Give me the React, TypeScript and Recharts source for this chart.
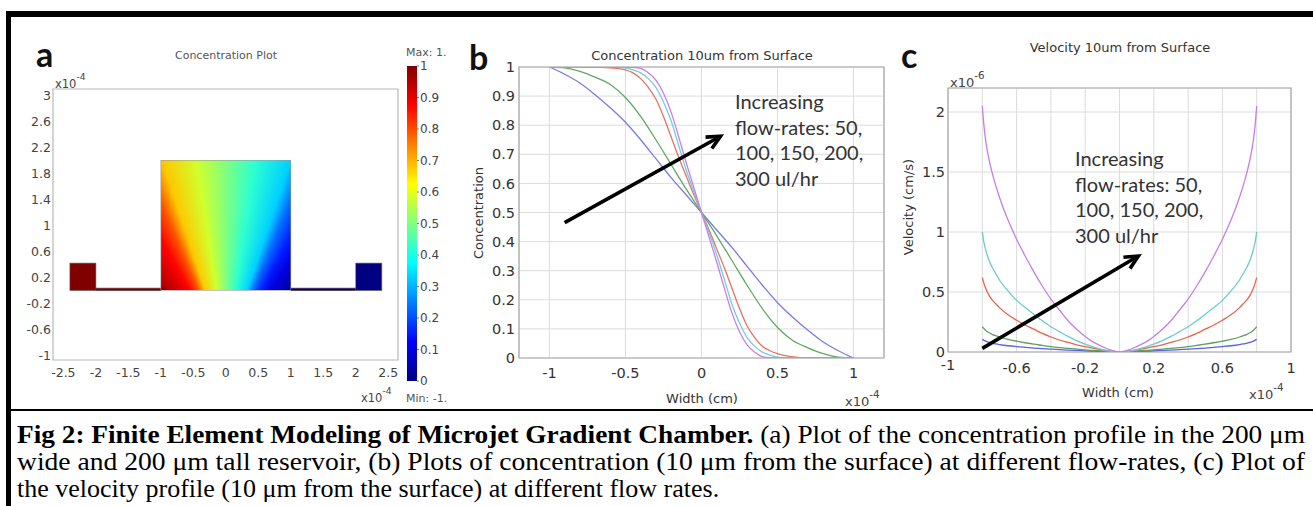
import React from 'react'
import { ComposedChart, LineChart, Line, XAxis, YAxis, CartesianGrid, ReferenceArea, ReferenceLine } from 'recharts'

// ---- panel a: geometry (x10^-4) ----
const aXTicks = [-2.5, -2, -1.5, -1, -0.5, 0, 0.5, 1, 1.5, 2, 2.5]
const aYTicks = [-1, -0.6, -0.2, 0.2, 0.6, 1, 1.4, 1.8, 2.2, 2.6, 3]
const reservoir = { x1: -1, x2: 1, y1: 0, y2: 2 }
const inlets = [
  { x1: -2.4, x2: -2.0, y1: 0, y2: 0.42, c: 1 },
  { x1: 2.0, x2: 2.4, y1: 0, y2: 0.42, c: 0 },
]
const channels = [
  { x1: -2.0, x2: -1.0, y1: 0, y2: 0.035, c: 1 },
  { x1: 1.0, x2: 2.0, y1: 0, y2: 0.035, c: 0 },
]
// concentration read along the bottom edge of the reservoir
const resBottomX = [-1, -0.88, -0.7, -0.55, -0.42, -0.33, -0.15, 0, 0.15, 0.33, 0.42, 0.55, 0.7, 0.88, 1]
const resBottomC = [1, 0.95, 0.91, 0.87, 0.79, 0.68, 0.58, 0.5, 0.42, 0.33, 0.23, 0.15, 0.09, 0.05, 0]
const cbTicks = [0, 0.1, 0.2, 0.3, 0.4, 0.5, 0.6, 0.7, 0.8, 0.9, 1]
const jetBreaks = [1, 0.875, 0.625, 0.375, 0.125, 0]

// ---- panel b: concentration 10um from surface ----
const bXTicks = [-1, -0.5, 0, 0.5, 1]
const bYTicks = [0, 0.1, 0.2, 0.3, 0.4, 0.5, 0.6, 0.7, 0.8, 0.9, 1]
const bX = [-1, -0.9, -0.8, -0.7, -0.6, -0.5, -0.4, -0.3, -0.2, -0.1, 0, 0.1, 0.2, 0.3, 0.4, 0.5, 0.6, 0.7, 0.8, 0.9, 1]
const b50 = [1, 0.975, 0.945, 0.905, 0.86, 0.81, 0.75, 0.685, 0.62, 0.56, 0.5, 0.44, 0.38, 0.315, 0.25, 0.19, 0.14, 0.095, 0.055, 0.025, 0]
const b100 = [1, 0.997, 0.985, 0.965, 0.94, 0.895, 0.83, 0.75, 0.665, 0.58, 0.5, 0.42, 0.335, 0.25, 0.17, 0.105, 0.06, 0.035, 0.015, 0.003, 0]
const b150X = [-1, -0.7, -0.6, -0.5, -0.45, -0.4, -0.35, -0.3, -0.25, -0.2, -0.15, -0.1, -0.05, 0, 0.05, 0.1, 0.15, 0.2, 0.25, 0.3, 0.35, 0.4, 0.45, 0.5, 0.6, 0.7, 1]
const b150 = [1, 1, 0.997, 0.99, 0.98, 0.96, 0.93, 0.89, 0.83, 0.76, 0.69, 0.625, 0.56, 0.5, 0.44, 0.375, 0.31, 0.24, 0.17, 0.11, 0.07, 0.04, 0.025, 0.015, 0.004, 0, 0]
const b200X = [-1, -0.6, -0.5, -0.45, -0.4, -0.35, -0.3, -0.25, -0.2, -0.15, -0.1, -0.05, 0, 0.05, 0.1, 0.15, 0.2, 0.25, 0.3, 0.35, 0.4, 0.45, 0.5, 0.55, 1]
const b200 = [1, 1, 0.997, 0.99, 0.98, 0.96, 0.93, 0.88, 0.815, 0.73, 0.645, 0.57, 0.5, 0.43, 0.355, 0.27, 0.185, 0.12, 0.07, 0.04, 0.02, 0.01, 0.003, 0, 0]
const b300X = [-1, -0.5, -0.45, -0.4, -0.35, -0.3, -0.25, -0.2, -0.15, -0.1, -0.05, 0, 0.05, 0.1, 0.15, 0.2, 0.25, 0.3, 0.35, 0.4, 0.45, 0.5, 1]
const b300 = [1, 1, 0.999, 0.995, 0.98, 0.955, 0.91, 0.845, 0.76, 0.67, 0.585, 0.5, 0.415, 0.33, 0.24, 0.155, 0.09, 0.045, 0.02, 0.005, 0.001, 0, 0]
const bArrow = [{ x: -0.9, y: 0.465 }, { x: 0.125, y: 0.762 }]

// ---- panel c: velocity 10um from surface (x10^-6 cm/s) ----
const cXTicks = [-1, -0.8, -0.6, -0.4, -0.2, 0, 0.2, 0.4, 0.6, 0.8, 1]
const cXLabels = [-1, -0.6, -0.2, 0.2, 0.6, 1]
const cYTicks = [0, 0.5, 1, 1.5, 2]
const cX = [-0.8, -0.79, -0.78, -0.76, -0.74, -0.72, -0.7, -0.65, -0.6, -0.55, -0.5, -0.45, -0.4, -0.35, -0.3, -0.25, -0.2, -0.15, -0.1, -0.05, 0,
  0.05, 0.1, 0.15, 0.2, 0.25, 0.3, 0.35, 0.4, 0.45, 0.5, 0.55, 0.6, 0.65, 0.7, 0.72, 0.74, 0.76, 0.78, 0.79, 0.8]
const c300 = [2.05, 1.88, 1.76, 1.6, 1.48, 1.38, 1.29, 1.1, 0.94, 0.8, 0.67, 0.55, 0.44, 0.35, 0.26, 0.19, 0.13, 0.08, 0.045, 0.015, 0,
  0.015, 0.045, 0.08, 0.13, 0.19, 0.26, 0.35, 0.44, 0.55, 0.67, 0.8, 0.94, 1.1, 1.29, 1.38, 1.48, 1.6, 1.76, 1.88, 2.05]
const c200 = [1.0, 0.91, 0.85, 0.76, 0.7, 0.65, 0.6, 0.51, 0.43, 0.37, 0.315, 0.26, 0.21, 0.17, 0.13, 0.095, 0.065, 0.04, 0.02, 0.006, 0,
  0.006, 0.02, 0.04, 0.065, 0.095, 0.13, 0.17, 0.21, 0.26, 0.315, 0.37, 0.43, 0.51, 0.6, 0.65, 0.7, 0.76, 0.85, 0.91, 1.0]
const c150 = [0.62, 0.57, 0.53, 0.47, 0.43, 0.4, 0.37, 0.31, 0.265, 0.225, 0.19, 0.155, 0.125, 0.1, 0.08, 0.06, 0.045, 0.03, 0.018, 0.007, 0,
  0.007, 0.018, 0.03, 0.045, 0.06, 0.08, 0.1, 0.125, 0.155, 0.19, 0.225, 0.265, 0.31, 0.37, 0.4, 0.43, 0.47, 0.53, 0.57, 0.62]
const c100 = [0.21, 0.195, 0.18, 0.16, 0.145, 0.135, 0.125, 0.105, 0.09, 0.077, 0.065, 0.055, 0.045, 0.037, 0.03, 0.024, 0.018, 0.013, 0.008, 0.003, 0,
  0.003, 0.008, 0.013, 0.018, 0.024, 0.03, 0.037, 0.045, 0.055, 0.065, 0.077, 0.09, 0.105, 0.125, 0.135, 0.145, 0.16, 0.18, 0.195, 0.21]
const c50 = [0.105, 0.097, 0.09, 0.08, 0.072, 0.067, 0.062, 0.052, 0.045, 0.039, 0.033, 0.028, 0.024, 0.02, 0.016, 0.013, 0.01, 0.007, 0.004, 0.002, 0,
  0.002, 0.004, 0.007, 0.01, 0.013, 0.016, 0.02, 0.024, 0.028, 0.033, 0.039, 0.045, 0.052, 0.062, 0.067, 0.072, 0.08, 0.09, 0.097, 0.105]
const cArrow = [{ x: -0.8, y: 0.03 }, { x: 0.11, y: 0.8 }]

const annotation = ['Increasing', 'flow-rates: 50,', '100, 150, 200,', '300 ul/hr']

const sans = '"DejaVu Sans", Verdana, sans-serif'
const cal = 'Lato, "Open Sans", sans-serif'
const serif = '"Liberation Serif", "Times New Roman", serif'

const zip = (xs: number[], ys: number[]) => xs.map((x, i) => ({ x, y: ys[i] }))

function jet(v: number) {
  const cl = (t: number) => Math.max(0, Math.min(1, t))
  const r = cl(Math.min(4 * v - 1.5, -4 * v + 4.5))
  const g = cl(Math.min(4 * v - 0.5, -4 * v + 3.5))
  const b = cl(Math.min(4 * v + 0.5, -4 * v + 2.5))
  return `rgb(${Math.round(r * 255)},${Math.round(g * 255)},${Math.round(b * 255)})`
}

// field is roughly radial about a point one half-width below the reservoir floor
const conic = (() => {
  const depth = 1
  const stops = resBottomX.map((x, i) => {
    const deg = (Math.atan2(x, depth) * 180) / Math.PI + 50
    return `${jet(resBottomC[i])} ${deg.toFixed(2)}deg`
  })
  return `conic-gradient(from -50deg at 50% 150%, ${stops.join(', ')})`
})()

const ReservoirShape = (p: any) => (
  <g>
    <foreignObject x={p.x} y={p.y} width={p.width} height={p.height}>
      <div style={{ width: '100%', height: '100%', background: conic }} />
    </foreignObject>
    <rect x={p.x} y={p.y} width={p.width} height={p.height} fill="none" stroke="#9a9a9a" strokeWidth={0.6} />
  </g>
)

const ColorBarShape = (p: any) => (
  <g>
    <defs>
      <linearGradient id="cbGrad" x1="0" y1="0" x2="0" y2="1">
        {jetBreaks.map(v => (
          <stop key={v} offset={1 - v} stopColor={jet(v)} />
        ))}
      </linearGradient>
    </defs>
    <rect x={p.x} y={p.y} width={p.width} height={p.height} fill="url(#cbGrad)" />
  </g>
)

const ArrowShape = (p: any) => {
  const { x1, y1, x2, y2 } = p
  if (x1 == null) return <g />
  const ang = Math.atan2(y2 - y1, x2 - x1)
  const L = 15
  const w = 0.45
  const ax1 = x2 - L * Math.cos(ang - w)
  const ay1 = y2 - L * Math.sin(ang - w)
  const ax2 = x2 - L * Math.cos(ang + w)
  const ay2 = y2 - L * Math.sin(ang + w)
  return (
    <g>
      <line x1={x1} y1={y1} x2={x2 - 2 * Math.cos(ang)} y2={y2 - 2 * Math.sin(ang)} stroke="#000" strokeWidth={3.6} />
      <polyline points={`${ax1},${ay1} ${x2},${y2} ${ax2},${ay2}`} fill="none" stroke="#000" strokeWidth={3.6} strokeLinejoin="miter" />
    </g>
  )
}

const CTick = (props: any) => {
  const { x, y, payload } = props
  const v = payload.value
  if (!cXLabels.includes(v)) return <g />
  const dy = v === -1 ? -3 : 0
  return (
    <text x={x} y={y + dy} dy="0.71em" textAnchor="middle" fontSize={14.5} fill="#333" fontFamily={sans}>
      {v}
    </text>
  )
}

const tickB = { fontSize: 14.5, fill: '#333', fontFamily: sans }
const tickA = { fontSize: 12.5, fill: '#444', fontFamily: sans }
const tickCb = { fontSize: 12, fill: '#444', fontFamily: sans }
const grid = '#dcdcdc'
const frame = '#a8a8a8'

function PanelA() {
  return (
    <ComposedChart width={420} height={420} margin={{ top: 89, right: 22, bottom: 30, left: 3 }}>
      <XAxis type="number" dataKey="x" domain={[-2.66, 2.65]} ticks={aXTicks} allowDataOverflow interval={0}
        tickSize={0} tickMargin={8} axisLine={false} height={30} tick={tickA} />
      <YAxis type="number" domain={[-1.07, 3.1]} ticks={aYTicks} allowDataOverflow interval={0}
        tickSize={0} tickMargin={2} axisLine={false} width={50} tick={tickA} />
      <ReferenceArea x1={-2.66} x2={2.65} y1={-1.07} y2={3.1} fill="#fff" fillOpacity={1} stroke="#b8b8b8" strokeWidth={1.2} />
      {channels.map((r, i) => (
        <ReferenceArea key={'ch' + i} x1={r.x1} x2={r.x2} y1={r.y1} y2={r.y2} fill={jet(r.c)} fillOpacity={1} stroke="#3a2020" strokeWidth={0.6} />
      ))}
      <ReferenceArea x1={reservoir.x1} x2={reservoir.x2} y1={reservoir.y1} y2={reservoir.y2} shape={ReservoirShape} />
      {inlets.map((r, i) => (
        <ReferenceArea key={'in' + i} x1={r.x1} x2={r.x2} y1={r.y1} y2={r.y2} fill={jet(r.c)} fillOpacity={1} stroke="#555" strokeWidth={0.6} />
      ))}
    </ComposedChart>
  )
}

function ColorBar() {
  return (
    <ComposedChart width={80} height={420} margin={{ top: 66, right: 0, bottom: 39, left: 27 }}>
      <XAxis type="number" dataKey="x" domain={[0, 1]} allowDataOverflow height={0} tick={false} axisLine={false} tickLine={false} />
      <YAxis type="number" orientation="right" domain={[0, 1]} ticks={cbTicks} allowDataOverflow interval={0}
        tickSize={2} tickMargin={1} axisLine={false} tickLine={{ stroke: '#777' }} width={43} tick={tickCb} />
      <ReferenceArea x1={0} x2={1} y1={0} y2={1} shape={ColorBarShape} />
    </ComposedChart>
  )
}

function PanelB() {
  const series = [
    { key: 'b50', data: zip(bX, b50), color: '#7b7be6' },
    { key: 'b100', data: zip(bX, b100), color: '#62a862' },
    { key: 'b150', data: zip(b150X, b150), color: '#e6735f' },
    { key: 'b200', data: zip(b200X, b200), color: '#72cde0' },
    { key: 'b300', data: zip(b300X, b300), color: '#c97de6' },
  ]
  return (
    <LineChart width={460} height={390} margin={{ top: 37, right: 16, bottom: 32, left: 29 }}>
      <CartesianGrid stroke={grid} />
      <XAxis type="number" dataKey="x" domain={[-1.2, 1.2]} ticks={bXTicks} allowDataOverflow interval={0}
        tickSize={0} tickMargin={10} axisLine={false} height={30} tick={tickB} />
      <YAxis type="number" domain={[0, 1]} ticks={bYTicks} allowDataOverflow interval={0}
        tickSize={0} tickMargin={4} axisLine={false} width={50} tick={tickB} />
      <ReferenceArea x1={-1.2} x2={1.2} y1={0} y2={1} fill="none" stroke={frame} strokeWidth={1.2} />
      {series.map(s => (
        <Line key={s.key} data={s.data} dataKey="y" type="monotone" stroke={s.color} strokeWidth={1.3}
          dot={false} isAnimationActive={false} />
      ))}
      <ReferenceLine segment={bArrow} shape={ArrowShape} />
    </LineChart>
  )
}

function PanelC() {
  const series = [
    { key: 'c50', data: zip(cX, c50), color: '#5a62e2' },
    { key: 'c100', data: zip(cX, c100), color: '#5ea05e' },
    { key: 'c150', data: zip(cX, c150), color: '#e8634e' },
    { key: 'c200', data: zip(cX, c200), color: '#6ccad0' },
    { key: 'c300', data: zip(cX, c300), color: '#c87ee2' },
  ]
  return (
    <LineChart width={433} height={390} margin={{ top: 58, right: 22, bottom: 38, left: 18 }}>
      <CartesianGrid stroke={grid} />
      <XAxis type="number" dataKey="x" domain={[-1, 1]} ticks={cXTicks} allowDataOverflow interval={0}
        tickSize={0} tickMargin={11} axisLine={false} height={30} tick={<CTick />} />
      <YAxis type="number" domain={[0, 2.2]} ticks={cYTicks} allowDataOverflow interval={0}
        tickSize={0} tickMargin={3} axisLine={false} width={50} tick={tickB} />
      <ReferenceArea x1={-1} x2={1} y1={0} y2={2.2} fill="none" stroke={frame} strokeWidth={1.2} />
      {series.map(s => (
        <Line key={s.key} data={s.data} dataKey="y" type="monotone" stroke={s.color} strokeWidth={1.3}
          dot={false} isAnimationActive={false} />
      ))}
      <ReferenceLine segment={cArrow} shape={ArrowShape} />
    </LineChart>
  )
}

const Exp = ({ x, y, e, size = 12 }: { x: number; y: number; e: string; size?: number }) => (
  <text x={x} y={y} fontSize={size} fill="#444" fontFamily={sans}>
    x10<tspan dy={-8} fontSize={size * 0.8}>{e}</tspan>
  </text>
)

export default function App() {
  return (
    <div style={{ position: 'absolute', left: 0, top: 0, width: 1313, height: 506, background: '#fff', overflow: 'hidden' }}>
      <div style={{ position: 'absolute', left: 0, top: 0 }}><PanelA /></div>
      <div style={{ position: 'absolute', left: 380, top: 0 }}><ColorBar /></div>
      <div style={{ position: 'absolute', left: 440, top: 30 }}><PanelB /></div>
      <div style={{ position: 'absolute', left: 880, top: 30 }}><PanelC /></div>
      <svg width={1313} height={506} style={{ position: 'absolute', left: 0, top: 0, pointerEvents: 'none' }}>
        {/* frame */}
        <rect x={6} y={11} width={1307} height={6} fill="#000" />
        <rect x={6} y={11} width={5} height={495} fill="#000" />
        <rect x={6} y={409} width={1307} height={2} fill="#000" />

        {/* panel letters */}
        <text x={36} y={67} fontSize={34} fontWeight={700} fontFamily={cal} fill="#111">a</text>
        <text x={469} y={70} fontSize={34} fontWeight={700} fontFamily={cal} fill="#111">b</text>
        <text x={901} y={68} fontSize={34} fontWeight={700} fontFamily={cal} fill="#111">c</text>

        {/* panel a texts */}
        <text x={226} y={59} fontSize={11} textAnchor="middle" fill="#555" fontFamily={sans}>Concentration Plot</text>
        <Exp x={55} y={88} e="-4" size={11.5} />
        <Exp x={361} y={402} e="-4" size={11.5} />
        <text x={406} y={56} fontSize={11} fill="#555" fontFamily={sans}>Max: 1.</text>
        <text x={406} y={402} fontSize={11} fill="#555" fontFamily={sans}>Min: -1.</text>

        {/* panel b texts */}
        <text x={702} y={60} fontSize={13} textAnchor="middle" fill="#333" fontFamily={sans}>Concentration 10um from Surface</text>
        <text x={702} y={403} fontSize={13} textAnchor="middle" fill="#333" fontFamily={sans}>Width (cm)</text>
        <text transform="translate(483,213) rotate(-90)" fontSize={13} textAnchor="middle" fill="#333" fontFamily={sans}>Concentration</text>
        <Exp x={845} y={406} e="-4" size={13} />
        {annotation.map((t, i) => (
          <text key={'ab' + i} x={735} y={109 + i * 25.6} fontSize={20} fill="#333" fontFamily={cal}>{t}</text>
        ))}

        {/* panel c texts */}
        <text x={1120} y={52} fontSize={13} textAnchor="middle" fill="#333" fontFamily={sans}>Velocity 10um from Surface</text>
        <text x={1118} y={397} fontSize={13} textAnchor="middle" fill="#333" fontFamily={sans}>Width (cm)</text>
        <text transform="translate(913,207) rotate(-90)" fontSize={13} textAnchor="middle" fill="#333" fontFamily={sans}>Velocity (cm/s)</text>
        <Exp x={950} y={87} e="-6" size={13} />
        <Exp x={1249} y={399} e="-4" size={13} />
        {annotation.map((t, i) => (
          <text key={'ac' + i} x={1075} y={166 + i * 25.6} fontSize={20} fill="#333" fontFamily={cal}>{t}</text>
        ))}

        {/* caption */}
        <g fontFamily={serif} fontSize={26} fill="#000">
          <text x={17} y={443} textLength={1288} lengthAdjust="spacingAndGlyphs">
            <tspan fontWeight={700}>Fig 2: Finite Element Modeling of Microjet Gradient Chamber.</tspan> (a) Plot of the concentration profile in the 200 μm
          </text>
          <text x={17} y={470} textLength={1288} lengthAdjust="spacingAndGlyphs">
            wide and 200 μm tall reservoir, (b) Plots of concentration (10 μm from the surface) at different flow-rates, (c) Plot of
          </text>
          <text x={17} y={497}>the velocity profile (10 μm from the surface) at different flow rates.</text>
        </g>
      </svg>
    </div>
  )
}
